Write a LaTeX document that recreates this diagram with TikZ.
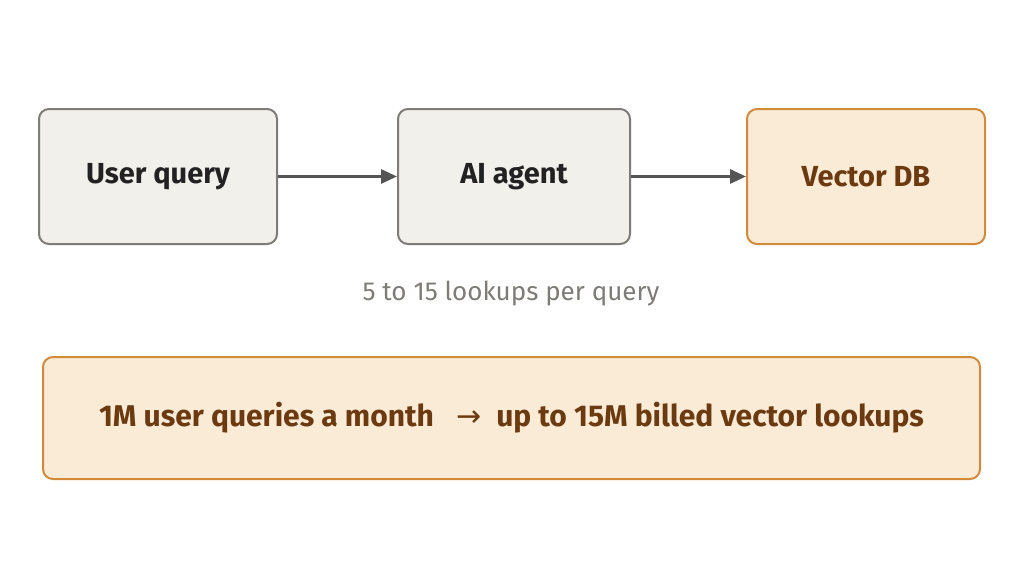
\documentclass[tikz,border=0pt]{standalone}
\usepackage{fontspec}
\setmainfont{Fira Sans}
\newfontfamily\symfont{DejaVu Sans}
\usetikzlibrary{arrows.meta}
\definecolor{gfill}{HTML}{F2F0EB}
\definecolor{gline}{HTML}{7D7C78}
\definecolor{ofill}{HTML}{FAEBD7}
\definecolor{oline}{HTML}{D08A3A}
\definecolor{otext}{HTML}{6B3A10}
\definecolor{gtext}{HTML}{222222}
\definecolor{arr}{HTML}{555555}
\begin{document}
\begin{tikzpicture}[x=1pt,y=-1pt,
  box/.style={draw=gline,fill=gfill,line width=2pt,rounded corners=10pt,minimum width=238pt,minimum height=135pt,font=\fontsize{29}{34}\selectfont\bfseries,text=gtext},
  obox/.style={box,draw=oline,fill=ofill,text=otext},
  conn/.style={draw=arr,line width=3pt,-{Triangle[length=16pt,width=14pt]}}]
\useasboundingbox[fill=white] (0,0) rectangle (1022,568);
\node[box] (u) at (158,176.5) {User query};
\node[box,minimum width=232pt] (a) at (514,176.5) {AI agent};
\node[obox] (v) at (866,176.5) {Vector DB};
\draw[conn] (u.east) -- (a.west);
\draw[conn] (a.east) -- (v.west);
\node[text=gline,font=\fontsize{26}{30}\selectfont] (c) at (511,294) {5 to 15 lookups per query};
\node[obox,minimum width=937pt,minimum height=122pt,font=\fontsize{30}{34}\selectfont\bfseries] (b) at (511.5,418) {1M user queries a month \enspace{\symfont\mdseries →}\enspace up to 15M billed vector lookups};
\end{tikzpicture}
\end{document}
